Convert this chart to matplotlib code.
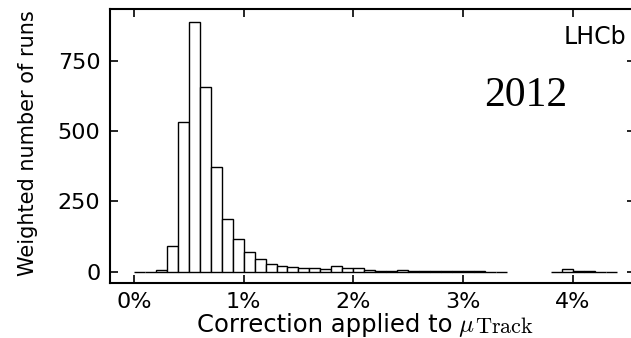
import numpy as np
import matplotlib
matplotlib.use("Agg")
import matplotlib.pyplot as plt

# =========================
# data: histogram of per-run corrections (2012), bins of 0.1 %
# =========================
bin_lo = [0.0, 0.1, 0.2, 0.3, 0.4, 0.5, 0.6, 0.7, 0.8, 0.9,
          1.0, 1.1, 1.2, 1.3, 1.4, 1.5, 1.6, 1.7, 1.8, 1.9,
          2.0, 2.1, 2.2, 2.3, 2.4, 2.5, 2.6, 2.7, 2.8, 2.9,
          3.0, 3.1, 3.2, 3.3,
          3.8, 3.9, 4.0, 4.1, 4.2, 4.3]
counts = [0, 0, 6, 92, 532, 890, 659, 372, 187, 117,
          72, 45, 27, 21, 16, 14, 13, 8, 22, 15,
          14, 6, 4, 3, 6, 2, 3, 3, 3, 2,
          4, 2, 0, 0,
          0, 8, 3, 3, 0, 0]
bin_width = 0.1

x_ticks = [0, 1, 2, 3, 4]
x_ticklabels = ["0%", "1%", "2%", "3%", "4%"]
y_ticks = [0, 250, 500, 750]

plt.rcParams["mathtext.fontset"] = "cm"
plt.rcParams["font.family"] = "DejaVu Sans"

fig = plt.figure(figsize=(6.31, 3.38), dpi=100)
ax = fig.add_axes([110 / 631, 55.3 / 338, 525 / 631, 273.4 / 338])

ax.bar(bin_lo, counts, width=bin_width, align="edge",
       facecolor="white", edgecolor="black", linewidth=1.0)

ax.set_xlim(-0.218, 4.568)
ax.set_ylim(-39, 934)
ax.set_xticks(x_ticks)
ax.set_xticklabels(x_ticklabels)
ax.set_yticks(y_ticks)

for s in ax.spines.values():
    s.set_linewidth(1.5)
ax.tick_params(direction="in", top=True, right=True, length=5.5, width=1.2,
               labelsize=16, pad=7)

ax.set_ylabel("Weighted number of runs", fontsize=15)
ax.yaxis.set_label_coords(-0.1365, 0.509)

# x label: text + bigger math part (latex-like subscript)
base_y = 6 / 338
t1 = fig.text(197 / 631, base_y, "Correction applied to", fontsize=17.5,
              ha="left", va="baseline")
t2 = ax.annotate(r"$\mu$", xy=(1, base_y), xycoords=(t1, "figure fraction"),
                 xytext=(4, 0), textcoords="offset points",
                 fontsize=18, ha="left", va="baseline")
ax.annotate(r"$\mathrm{Track}$", xy=(1, base_y), xycoords=(t2, "figure fraction"),
            xytext=(0.5, -0.8), textcoords="offset points",
            fontsize=16, ha="left", va="baseline")

ax.text(0.9828, 0.9426, "LHCb", transform=ax.transAxes, ha="right", va="top",
        fontsize=17)
ax.text(0.791, 0.646, "2012", transform=ax.transAxes, ha="center", va="baseline",
        fontsize=30, family="Liberation Serif")

fig.savefig("out.png", dpi=100)
